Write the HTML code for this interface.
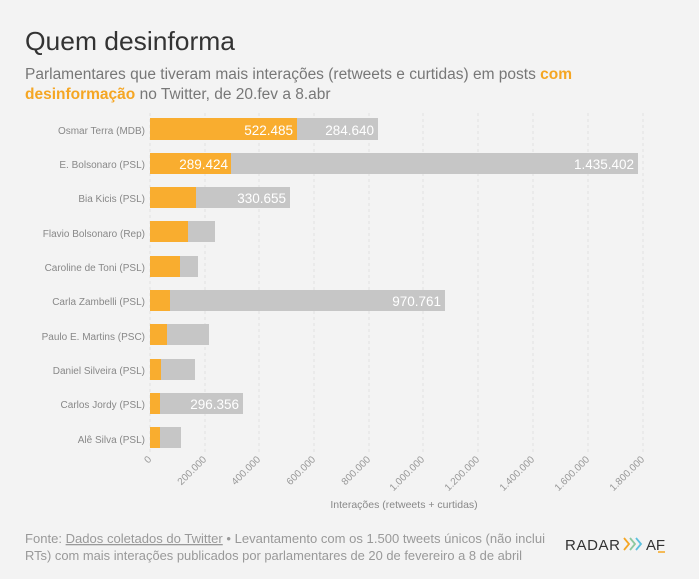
<!DOCTYPE html>
<html><head><meta charset="utf-8"><style>
body{margin:0;background:#f3f3f3;width:699px;height:574px;overflow:hidden;font-family:"Liberation Sans",sans-serif}
</style></head><body>
<svg width="699" height="574" xmlns="http://www.w3.org/2000/svg" font-family="Liberation Sans, sans-serif">
<rect width="699" height="574" fill="#f3f3f3"/>
<text x="25" y="50" font-size="26" fill="#333" textLength="210" lengthAdjust="spacingAndGlyphs">Quem desinforma</text>
<text x="25" y="79" font-size="15.5" fill="#777">Parlamentares que tiveram mais interações (retweets e curtidas) em posts <tspan fill="#f5a623" font-weight="bold">com</tspan></text>
<text x="25" y="99" font-size="15.5" fill="#777"><tspan fill="#f5a623" font-weight="bold">desinformação</tspan> no Twitter, de 20.fev a 8.abr</text>
<g stroke="#e2e2e2" stroke-dasharray="3,3">
<line x1="150" y1="113" x2="150" y2="452"/><line x1="205" y1="113" x2="205" y2="452"/><line x1="259" y1="113" x2="259" y2="452"/><line x1="314" y1="113" x2="314" y2="452"/><line x1="369" y1="113" x2="369" y2="452"/><line x1="423" y1="113" x2="423" y2="452"/><line x1="478" y1="113" x2="478" y2="452"/><line x1="533" y1="113" x2="533" y2="452"/><line x1="588" y1="113" x2="588" y2="452"/><line x1="643" y1="113" x2="643" y2="452"/>
</g>
<g font-size="10" fill="#888" text-anchor="end">
<text x="145" y="134">Osmar Terra (MDB)</text>
<text x="145" y="168">E. Bolsonaro (PSL)</text>
<text x="145" y="202">Bia Kicis (PSL)</text>
<text x="145" y="237">Flavio Bolsonaro (Rep)</text>
<text x="145" y="271">Caroline de Toni (PSL)</text>
<text x="145" y="305">Carla Zambelli (PSL)</text>
<text x="145" y="340">Paulo E. Martins (PSC)</text>
<text x="145" y="374">Daniel Silveira (PSL)</text>
<text x="145" y="408">Carlos Jordy (PSL)</text>
<text x="145" y="443">Alê Silva (PSL)</text>
</g>
<g fill="#c6c6c6">
<rect x="150" y="118" width="228" height="22"/>
<rect x="150" y="153" width="488" height="21"/>
<rect x="150" y="187" width="140" height="21"/>
<rect x="150" y="221" width="65" height="21"/>
<rect x="150" y="256" width="48" height="21"/>
<rect x="150" y="290" width="295" height="21"/>
<rect x="150" y="324" width="59" height="21"/>
<rect x="150" y="359" width="45" height="21"/>
<rect x="150" y="393" width="93" height="21"/>
<rect x="150" y="427" width="31" height="21"/>
</g>
<g fill="#f9ad2f">
<rect x="150" y="118" width="147" height="22"/>
<rect x="150" y="153" width="81" height="21"/>
<rect x="150" y="187" width="46" height="21"/>
<rect x="150" y="221" width="38" height="21"/>
<rect x="150" y="256" width="30" height="21"/>
<rect x="150" y="290" width="20" height="21"/>
<rect x="150" y="324" width="17" height="21"/>
<rect x="150" y="359" width="11" height="21"/>
<rect x="150" y="393" width="10" height="21"/>
<rect x="150" y="427" width="10" height="21"/>
</g>
<g font-size="13.5" fill="#fff" text-anchor="end">
<text x="293" y="135">522.485</text>
<text x="374" y="135">284.640</text>
<text x="228" y="169">289.424</text>
<text x="634" y="169">1.435.402</text>
<text x="286" y="203">330.655</text>
<text x="441" y="306">970.761</text>
<text x="239" y="409">296.356</text>
</g>
<g font-size="10" fill="#999" text-anchor="end">
<text transform="translate(152,460) rotate(-45)">0</text>
<text transform="translate(207,460) rotate(-45)">200.000</text>
<text transform="translate(261,460) rotate(-45)">400.000</text>
<text transform="translate(316,460) rotate(-45)">600.000</text>
<text transform="translate(371,460) rotate(-45)">800.000</text>
<text transform="translate(425,460) rotate(-45)">1.000.000</text>
<text transform="translate(480,460) rotate(-45)">1.200.000</text>
<text transform="translate(535,460) rotate(-45)">1.400.000</text>
<text transform="translate(590,460) rotate(-45)">1.600.000</text>
<text transform="translate(645,460) rotate(-45)">1.800.000</text>
</g>
<text x="404" y="508" font-size="10.5" fill="#888" text-anchor="middle">Interações (retweets + curtidas)</text>
<text x="25" y="543" font-size="13" fill="#999" textLength="520" lengthAdjust="spacingAndGlyphs">Fonte: <tspan text-decoration="underline">Dados coletados do Twitter</tspan> • Levantamento com os 1.500 tweets únicos (não inclui</text>
<text x="25" y="560" font-size="13" fill="#999" textLength="497" lengthAdjust="spacingAndGlyphs">RTs) com mais interações publicados por parlamentares de 20 de fevereiro a 8 de abril</text>
<text x="565" y="550" font-size="15" fill="#333" textLength="55" lengthAdjust="spacing">RADAR</text>
<g fill="none" stroke-width="1.8">
<polyline points="624,538 629,544 624,550" stroke="#f5a623"/>
<polyline points="630,538 635,544 630,550" stroke="#8cc9a0"/>
<polyline points="636,538 641,544 636,550" stroke="#5bc0de"/>
</g>
<text x="646" y="550" font-size="15" fill="#333" textLength="19" lengthAdjust="spacing">AF</text>
<line x1="658" y1="552" x2="665" y2="552" stroke="#f5a623" stroke-width="1.5"/>
</svg>
</body></html>
